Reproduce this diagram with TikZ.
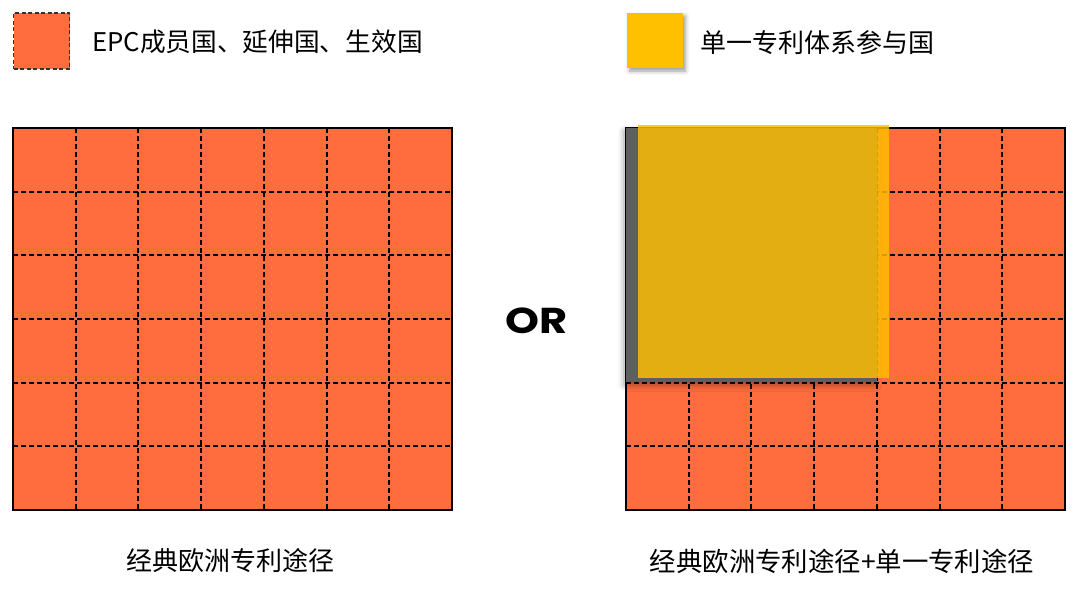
\documentclass[tikz,border=0pt]{standalone}
\usepackage{fontspec}
\setmainfont{Noto Sans CJK SC}
\newfontfamily\orfont{Poppins}
\usepackage{xcolor}
\usetikzlibrary{shadows.blur}
\definecolor{epcorange}{HTML}{FF6C3D}
\definecolor{upyellow}{HTML}{FFC000}
\definecolor{shadowgray}{HTML}{5F5F5F}

\begin{document}
\begin{tikzpicture}[x=1pt,y=-1pt,
                    grid line/.style={black,dash pattern=on 5pt off 3pt,line width=2pt},
                    frame/.style={draw=black,line width=2pt},
                    label/.style={font=\fontsize{26}{30}\selectfont,inner sep=0pt}]
 \useasboundingbox (0,0) rectangle (1080,595);

 % legend
 \node[draw=black!80,fill=epcorange,dash pattern=on 4pt off 2.5pt,line width=1.6pt,
       minimum width=56pt,minimum height=56pt,inner sep=0pt] (keyepc) at (41.5,41) {};
 \node[label,anchor=west,font=\fontsize{25.7}{30}\selectfont] (textepc) at (92,42) {EPC成员国、延伸国、生效国};
 \node[fill=upyellow,minimum width=56pt,minimum height=55pt,inner sep=0pt,
       blur shadow={shadow xshift=3pt,shadow yshift=-3pt,shadow blur radius=4pt}] (keyup) at (654.5,40.5) {};
 \node[label,anchor=west] (textup) at (700,43) {单一专利体系参与国};

 % left grid
 \fill[epcorange] (13,128) rectangle (452,510);
 \foreach \i in {1,...,6}
   \draw[grid line] ({13+\i*439/7},128) -- ({13+\i*439/7},510);
 \foreach \j in {1,...,5}
   \draw[grid line] (13,{128+\j*382/6}) -- (452,{128+\j*382/6});
 \draw[frame] (13,128) rectangle (452,510);

 % right grid
 \fill[epcorange] (626,128) rectangle (1065,510);
 \foreach \i in {1,...,6}
   \draw[grid line] ({626+\i*439/7},128) -- ({626+\i*439/7},510);
 \foreach \j in {1,...,5}
   \draw[grid line] (626,{128+\j*382/6}) -- (1065,{128+\j*382/6});
 \draw[frame] (626,128) rectangle (1065,510);

 % unitary patent block
 \fill[shadowgray,blur shadow={shadow xshift=-2pt,shadow yshift=-3pt,shadow blur radius=6pt}]
   (626,128) rectangle (877,382);
 \fill[upyellow,opacity=0.82] (638,125) rectangle (889,378);

 \node[font=\orfont\bfseries\fontsize{36}{40}\selectfont,inner sep=0pt,
       xscale=1.2,transform shape] (or) at (537,321) {OR};

 \node[label] (pathepc) at (230,561) {经典欧洲专利途径};
 \node[label,font=\fontsize{26.4}{30}\selectfont] (pathboth) at (842,561) {经典欧洲专利途径+单一专利途径};
\end{tikzpicture}
\end{document}
